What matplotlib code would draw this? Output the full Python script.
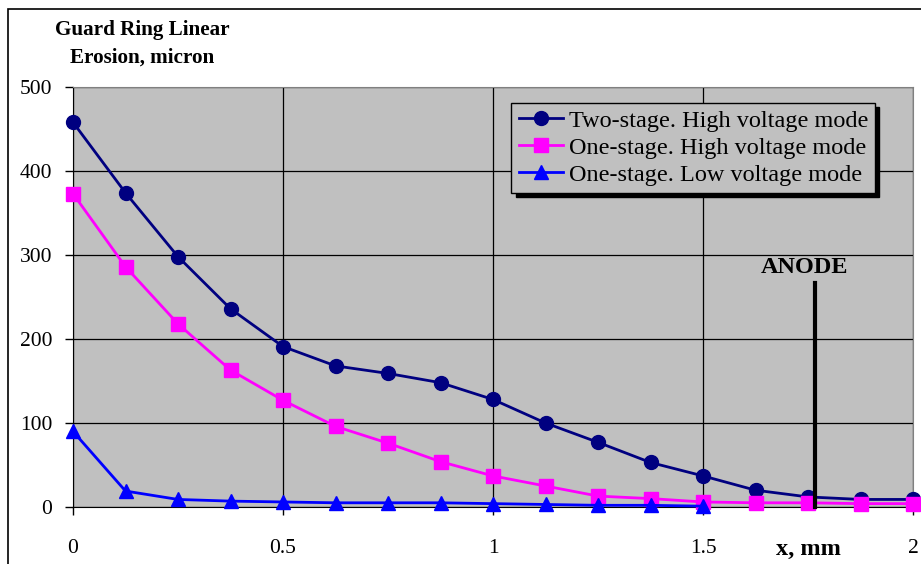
"""Guard ring linear erosion profile along x for three thruster modes."""

import matplotlib

matplotlib.use("Agg")
import matplotlib.pyplot as plt
from matplotlib.patches import Rectangle

x_mm = [0, 0.125, 0.25, 0.375, 0.5, 0.625, 0.75, 0.875, 1.0,
        1.125, 1.25, 1.375, 1.5, 1.625, 1.75, 1.875, 2.0]
two_stage_hv = [458, 374, 298, 236, 191, 168, 159, 148, 128,
                100, 77, 53, 37, 20, 12, 9, 9]
one_stage_hv = [373, 286, 218, 163, 127, 96, 76, 54, 37,
                25, 13, 10, 6, 5, 5, 4, 4]
x_low = x_mm[:13]
one_stage_lv = [90, 19, 9, 7, 6, 5, 5, 5, 4, 3, 2, 2, 1]

labels = ["Two-stage. High voltage mode",
          "One-stage. High voltage mode",
          "One-stage. Low voltage mode"]
anode_x = 1.766
anode_top = 267

plt.rcParams["font.family"] = "Liberation Serif"

fig = plt.figure(figsize=(9.21, 5.64), dpi=100)
ax = fig.add_axes([73 / 921, 1 - 507 / 564, 840 / 921, 420 / 564])
ax.set_facecolor("#C0C0C0")

# outer chart frame (cut off on the right/bottom like the original)
fig.patches.append(Rectangle((8 / 921, -0.1), 1.2, 1 - 9 / 564 + 0.1,
                             transform=fig.transFigure, fill=False,
                             edgecolor="black", linewidth=1.2))

ax.plot(x_mm, two_stage_hv, color="#000080", marker="o", markersize=10,
        linewidth=2, label=labels[0], clip_on=False, zorder=5)
ax.plot(x_mm, one_stage_hv, color="#FF00FF", marker="s", markersize=9.5,
        linewidth=2, label=labels[1], clip_on=False, zorder=5)
ax.plot(x_low, one_stage_lv, color="#0000FF", marker="^", markersize=10,
        linewidth=2, label=labels[2], clip_on=False, zorder=5)

ax.plot([anode_x, anode_x], [0, anode_top], color="black", linewidth=3,
        zorder=6, clip_on=False)
ax.text(anode_x - 0.025, anode_top + 18, "ANODE", ha="center", va="center",
        fontsize=17.5, fontweight="bold")

ax.set_xlim(0, 2)
ax.set_ylim(0, 500)
ax.set_xticks([0, 0.5, 1, 1.5, 2], ["0", "0.5", "1", "1.5", "2"])
ax.set_yticks([0, 100, 200, 300, 400, 500])
ax.tick_params(axis="both", direction="out", length=6, width=1,
               labelsize=15.5, colors="black")
ax.tick_params(axis="x", pad=17)
ax.tick_params(axis="y", pad=9)
ax.grid(True, color="black", linewidth=0.9)
ax.set_axisbelow(True)
for side in ("top", "right"):
    ax.spines[side].set_color("#808080")
for side in ("left", "bottom"):
    ax.spines[side].set_color("black")

fig.text(142 / 921, 1 - 30 / 564, "Guard Ring Linear", ha="center",
         va="center", fontsize=15.2, fontweight="bold")
fig.text(142 / 921, 1 - 58 / 564, "Erosion, micron", ha="center",
         va="center", fontsize=15.2, fontweight="bold")
fig.text(808 / 921, 1 - 549 / 564, "x, mm", ha="center", va="center",
         fontsize=17.5, fontweight="bold")

leg = ax.legend(loc="upper left", bbox_to_anchor=(0.522, 0.963),
                fontsize=17.5, frameon=True, fancybox=False,
                shadow={"color": "black", "alpha": 1, "ox": 3, "oy": -3},
                facecolor="#C0C0C0", edgecolor="black", framealpha=1,
                handlelength=1.8, handletextpad=0.25, borderpad=0.3,
                labelspacing=0.2, borderaxespad=0)
leg.get_frame().set_linewidth(1)

fig.savefig("out.png", dpi=100)
